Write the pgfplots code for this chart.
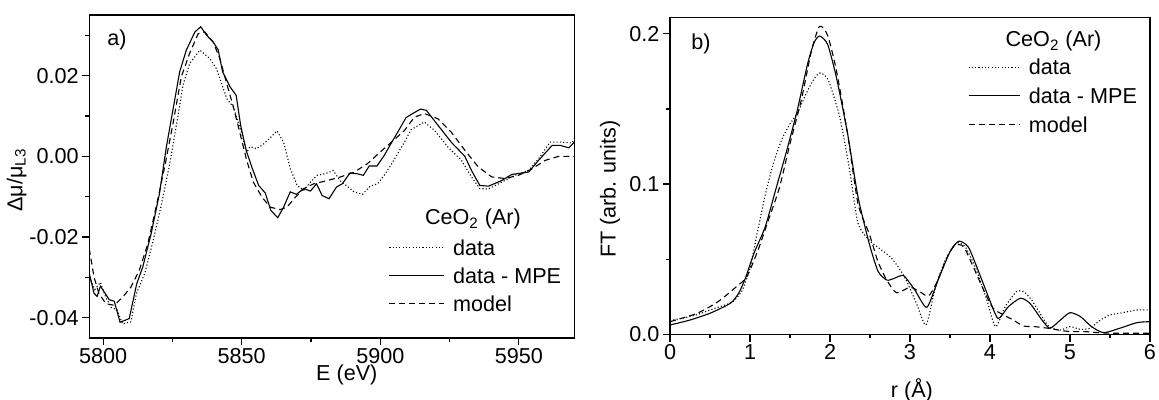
\documentclass[border=0pt]{standalone}
\usepackage{fontspec}
\setmainfont{Liberation Sans}
\usepackage{pgfplots}
\pgfplotsset{compat=1.18}

\newcommand{\fs}{\fontsize{10.8bp}{13bp}\selectfont}

\pgfplotsset{
  panel/.style={
    scale only axis,
    scaled ticks=false,
    axis line style={line width=0.75bp},
    every tick/.style={line width=0.6bp, black},
    tick align=outside,
    major tick length=3.6bp,
    minor tick length=2bp,
    xtick pos=bottom, ytick pos=left,
    tick label style={font=\fs},
    xticklabel style={inner sep=1.5bp},
    yticklabel style={inner sep=1.5bp},
    legend cell align=left,
    every axis plot/.append style={line width=0.55bp, black},
  },
  dat/.style={dash pattern=on 0.55bp off 1.1bp},
  mpe/.style={solid},
  mdl/.style={dash pattern=on 3bp off 2bp},
}

\begin{document}
\begin{tikzpicture}

% ---- a) difference XANES ----
\begin{axis}[panel,
    at={(44.65bp,-169bp)}, anchor=south west,
    width=242.5bp, height=161.5bp,
    xmin=5795, xmax=5970, ymin=-0.045, ymax=0.035,
    xtick={5800,5850,5900,5950}, xticklabels={5800,5850,5900,5950},
    minor xtick={5825,5875,5925},
    ytick={-0.04,-0.02,0,0.02}, yticklabels={-0.04,-0.02,0.00,0.02},
    minor ytick={-0.03,-0.01,0.01,0.03},
    xlabel={E (eV)},
    every axis x label/.style={at={(axis description cs:0.531,-0.115)}, anchor=center, font=\fs},
    ylabel={Δμ/μ\textsubscript{L3}},
    every axis y label/.style={at={(axis description cs:-0.15,0.489)}, rotate=90, anchor=center, font=\fs},
    legend style={draw=none, fill=none, inner sep=0pt, font=\fs,
      at={(axis description cs:0.617,0.325)}, anchor=north west,
      nodes={inner sep=0pt, text height=10.87bp, text depth=3.13bp},
      /tikz/column 1/.style={column sep=4bp}},
    legend image code/.code={\draw[#1] (0bp,0bp) -- (27.5bp,0bp);},
  ]
\addplot[dat] coordinates {
(5795,-0.0300) (5797,-0.0330) (5799,-0.0312) (5801,-0.0350) (5803,-0.0375)
(5805,-0.0380) (5807,-0.0415) (5810,-0.0410) (5812,-0.0340) (5815,-0.0290)
(5818,-0.0210) (5821,-0.0120) (5824,-0.0020) (5827,0.0100) (5828.8,0.0176)
(5831.2,0.0230) (5834.9,0.0263) (5838.5,0.0242) (5840.9,0.0217) (5844.6,0.0143)
(5847.0,0.0122) (5850.0,0.0056) (5851.8,0.0010) (5853.0,0.0024) (5855.4,0.0019)
(5857.8,0.0030) (5860.3,0.0046) (5862.7,0.0063) (5865.1,0.0035) (5867.5,-0.0030)
(5870.0,-0.0072) (5872.4,-0.0084) (5874.8,-0.0064) (5877.2,-0.0047) (5880.2,-0.0043)
(5883.0,-0.0035) (5885.4,-0.0060) (5888.1,-0.0074) (5890.5,-0.0088) (5893.6,-0.0094)
(5896.3,-0.0074) (5899.0,-0.0068) (5901.4,-0.0047) (5903.8,-0.0022) (5906.3,0.0007)
(5908.7,0.0035) (5911.1,0.0066) (5915.9,0.0085) (5919.6,0.0064) (5924.4,0.0023)
(5929.3,-0.0010) (5932.9,-0.0051) (5935.9,-0.0080) (5939.0,-0.0081) (5943.8,-0.0064)
(5948.6,-0.0047) (5953.5,-0.0035) (5957.1,-0.0006) (5961.3,0.0035) (5965.6,0.0035)
(5969.2,0.0033) (5970.0,0.0044)
};
\addlegendentry{data}
\addplot[mpe] coordinates {
(5795,-0.0290) (5796.7,-0.0339) (5797.8,-0.0347) (5799.0,-0.0322) (5800.0,-0.0332)
(5802.2,-0.0355) (5804.0,-0.0359) (5806.1,-0.0411) (5809.4,-0.0402) (5812.1,-0.0316)
(5814.3,-0.0274) (5817.3,-0.0192) (5820.3,-0.0093) (5822.8,0.0023) (5825.8,0.0139)
(5827.6,0.0209) (5830.0,0.0263) (5833.1,0.0308) (5835.2,0.0321) (5837.3,0.0300)
(5839.7,0.0283) (5841.5,0.0264) (5843.1,0.0209) (5845.8,0.0172) (5848.0,0.0151)
(5849.6,0.0077) (5851.6,0.0015) (5853.6,-0.0026) (5856.1,-0.0072) (5858.5,-0.0091)
(5860.5,-0.0134) (5863.0,-0.0152) (5865.1,-0.0126) (5867.5,-0.0088) (5869.7,-0.0094)
(5872.4,-0.0080) (5874.8,-0.0086) (5877.0,-0.0068) (5879.0,-0.0097) (5881.5,-0.0105)
(5884.2,-0.0076) (5886.3,-0.0068) (5889.1,-0.0041) (5891.5,-0.0043) (5893.9,-0.0047)
(5896.0,-0.0024) (5898.8,-0.0024) (5901.4,0.0002) (5903.8,0.0031) (5906.3,0.0060)
(5909.3,0.0096) (5911.7,0.0106) (5914.5,0.0117) (5916.6,0.0114) (5920.8,0.0077)
(5925.6,0.0035) (5930.5,0.0000) (5932.9,-0.0035) (5935.9,-0.0072) (5939.0,-0.0074)
(5943.8,-0.0060) (5947.4,-0.0045) (5953.5,-0.0039) (5957.1,-0.0010) (5962.0,0.0027)
(5965.0,0.0027) (5968.0,0.0021) (5970.0,0.0035)
};
\addlegendentry{data - MPE}
\addplot[mdl] coordinates {
(5795,-0.0229) (5796.7,-0.0299) (5798.5,-0.0340) (5801,-0.0365) (5804,-0.0369)
(5807,-0.0349) (5810,-0.0324) (5813,-0.0283) (5816.1,-0.0217) (5819.1,-0.0126)
(5822.2,-0.0026) (5825.2,0.0081) (5828.2,0.0197) (5831.2,0.0255) (5834.3,0.0304)
(5836.7,0.0308) (5839.7,0.0283) (5842.1,0.0242) (5844.6,0.0180) (5847,0.0122)
(5849.4,0.0056) (5851.8,-0.0010) (5854.2,-0.0064) (5857.3,-0.0101) (5860.3,-0.0126)
(5863.9,-0.0132) (5866.3,-0.0126) (5869.4,-0.0101) (5872.4,-0.0080) (5876,-0.0068)
(5880.9,-0.0060) (5885.7,-0.0051) (5890.6,-0.0039) (5895.4,-0.0018) (5900.2,0.0012)
(5904,0.0035) (5908.7,0.0064) (5912.3,0.0097) (5915.9,0.0106) (5920.8,0.0093)
(5925.6,0.0060) (5930.5,0.0015) (5935.3,-0.0026) (5940.2,-0.0051) (5945.0,-0.0055)
(5949.9,-0.0047) (5954.7,-0.0031) (5959.5,-0.0010) (5964.4,0.0000) (5970,0.0000)
};
\addlegendentry{model}
\node[anchor=base west, font=\fs] at (axis description cs:0.0225,0.905) {a)};
\node[anchor=base, font=\fs] at (axis description cs:0.791,0.35) {CeO\textsubscript{2} (Ar)};
\end{axis}

% ---- b) Fourier transform ----
\begin{axis}[panel,
    at={(335bp,-167.15bp)}, anchor=south west,
    width=240bp, height=158.5bp,
    xmin=0, xmax=6, ymin=0, ymax=0.211,
    xtick={0,1,2,3,4,5,6}, xticklabels={0,1,2,3,4,5,6},
    minor xtick={0.5,1.5,2.5,3.5,4.5,5.5},
    ytick={0,0.1,0.2}, yticklabels={0.0,0.1,0.2},
    minor ytick={0.05,0.15},
    xlabel={r (Å)},
    every axis x label/.style={at={(axis description cs:0.504,-0.176)}, anchor=center, font=\fs},
    ylabel={FT (arb. units)},
    every axis y label/.style={at={(axis description cs:-0.125,0.458)}, rotate=90, anchor=center, font=\fs},
    legend style={draw=none, fill=none, inner sep=0pt, font=\fs,
      at={(axis description cs:0.62,0.8896)}, anchor=north west,
      nodes={inner sep=0pt, text height=11.07bp, text depth=3.33bp},
      /tikz/column 1/.style={column sep=4.1bp}},
    legend image code/.code={\draw[#1] (0bp,0bp) -- (25.8bp,0bp);},
  ]
\addplot[dat, smooth, tension=0.4] coordinates {
(0.00,0.0091) (0.30,0.0125) (0.60,0.0180) (0.78,0.0215) (0.90,0.0290)
(1.00,0.0440) (1.10,0.0700) (1.20,0.0950) (1.30,0.1150) (1.40,0.1300)
(1.50,0.1400) (1.60,0.1480) (1.70,0.1600) (1.80,0.1700) (1.88,0.1740)
(1.98,0.1690) (2.12,0.1450) (2.24,0.1110) (2.35,0.0740) (2.49,0.0627)
(2.62,0.0571) (2.77,0.0506) (2.93,0.0384) (3.08,0.0206) (3.20,0.0062)
(3.31,0.0295) (3.44,0.0494) (3.58,0.0605) (3.69,0.0583) (3.83,0.0428)
(3.96,0.0228) (4.07,0.0051) (4.19,0.0184) (4.33,0.0284) (4.42,0.0284)
(4.52,0.0228) (4.65,0.0118) (4.74,0.0051) (4.88,0.0029) (5.00,0.0051)
(5.13,0.0033) (5.25,0.0040) (5.38,0.0095) (5.50,0.0129) (5.62,0.0140)
(5.84,0.0162) (6.00,0.0162)
};
\addlegendentry{data}
\addplot[mpe, smooth, tension=0.4] coordinates {
(0.00,0.0062) (0.25,0.0095) (0.50,0.0140) (0.70,0.0190) (0.78,0.0218)
(0.86,0.0275) (0.94,0.0370) (1.05,0.0540) (1.19,0.0715) (1.32,0.0960)
(1.46,0.1225) (1.59,0.1490) (1.72,0.1800) (1.80,0.1940) (1.87,0.1985)
(1.97,0.1930) (2.08,0.1710) (2.22,0.1335) (2.35,0.0915) (2.49,0.0605)
(2.60,0.0420) (2.71,0.0361) (2.80,0.0372) (2.92,0.0390) (3.06,0.0295)
(3.21,0.0180) (3.35,0.0360) (3.50,0.0550) (3.61,0.0620) (3.73,0.0580)
(3.85,0.0428) (3.98,0.0250) (4.10,0.0106) (4.23,0.0184) (4.38,0.0240)
(4.50,0.0206) (4.65,0.0095) (4.75,0.0040) (4.88,0.0095) (5.00,0.0144)
(5.13,0.0118) (5.27,0.0051) (5.42,0.0011) (5.62,0.0040) (5.84,0.0078)
(6.00,0.0084)
};
\addlegendentry{data - MPE}
\addplot[mdl, smooth, tension=0.4] coordinates {
(0.00,0.0084) (0.34,0.0140) (0.60,0.0217) (0.83,0.0317) (0.96,0.0383)
(1.10,0.0560) (1.23,0.0760) (1.37,0.0980) (1.50,0.1270) (1.64,0.1557)
(1.77,0.1890) (1.87,0.2050) (1.97,0.1990) (2.08,0.1756) (2.22,0.1335)
(2.35,0.0870) (2.49,0.0670) (2.60,0.0483) (2.71,0.0361) (2.83,0.0277)
(3.00,0.0313) (3.12,0.0284) (3.23,0.0255) (3.33,0.0339) (3.46,0.0506)
(3.56,0.0594) (3.67,0.0583) (3.79,0.0450) (3.92,0.0295) (4.04,0.0173)
(4.17,0.0129) (4.29,0.0095) (4.42,0.0055) (4.56,0.0051) (4.73,0.0040)
(4.85,0.0029) (5.00,0.0018) (5.19,0.0018) (5.35,0.0011) (5.56,0.0007)
(6.00,0.0007)
};
\addlegendentry{model}
\node[anchor=base west, font=\fs] at (axis description cs:0.03,0.897) {b)};
\node[anchor=base, font=\fs] at (axis description cs:0.799,0.907) {CeO\textsubscript{2} (Ar)};
\end{axis}

\pgfresetboundingbox
\path[use as bounding box] (0bp,0bp) rectangle (579.5bp,-200bp);
\end{tikzpicture}
\end{document}
